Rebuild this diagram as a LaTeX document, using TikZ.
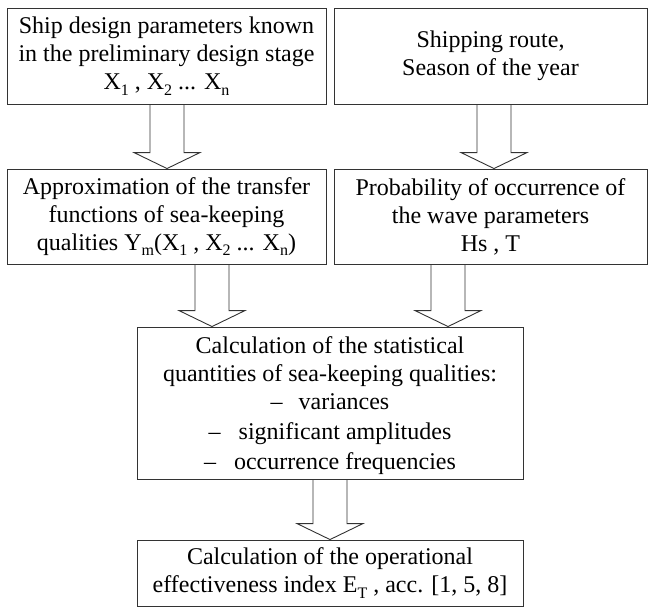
\documentclass[tikz,border=0pt]{standalone}
\usepackage{fontspec}
\setmainfont{Liberation Serif}
\usepackage{tikz}
\usetikzlibrary{calc, positioning}
\newcommand{\lowidx}[1]{\raisebox{-0.5ex}{\fontsize{16}{16}\selectfont #1}}
\newcommand{\blockarrow}[2]{%
	\draw[blockarr] let \p1=(#1), \p2=(#2.north) in
		(\x1-17pt,\y1) -- (\x1-17pt,\y2+16pt) -- (\x1-33pt,\y2+16pt) -- (\x1,\y2)
		-- (\x1+33pt,\y2+16pt) -- (\x1+17pt,\y2+16pt) -- (\x1+17pt,\y1);}

\begin{document}
\begin{tikzpicture}[x=1pt, y=-1pt,
	stagebox/.style={draw=black!80, line width=0.9pt, align=center, inner sep=0pt,
		font=\fontsize{24}{28}\selectfont},
	blockarr/.style={draw=black!80, line width=0.9pt, line join=miter}]
	\useasboundingbox (0,0) rectangle (648,608);
	\node[stagebox, minimum width=319pt, minimum height=96pt] (ship) at (166.5,56)
		{Ship design parameters known\\in the preliminary design stage\\X\lowidx{1} , X\lowidx{2} ... X\lowidx{n}};
	\node[stagebox, minimum width=313pt, minimum height=96pt] (route) at (490.5,56)
		{Shipping route,\\Season of the year};
	\node[stagebox, minimum width=319pt, minimum height=95pt] (approx) at (166.5,216.5)
		{Approximation of the transfer\\functions of sea-keeping\\qualities Y\lowidx{m}(X\lowidx{1} , X\lowidx{2} ... X\lowidx{n})};
	\node[stagebox, minimum width=313pt, minimum height=95pt] (prob) at (490.5,216.5)
		{Probability of occurrence of\\the wave parameters\\Hs , T};
	\node[stagebox, minimum width=386pt, minimum height=152pt] (calc) at (330,403)
		{\rule{0pt}{22pt}Calculation of the statistical\\quantities of sea-keeping qualities:\\
		\textendash\hspace{16pt}variances\\[2pt]
		\textendash\hspace{18pt}significant amplitudes\\[2pt]
		\textendash\hspace{18pt}occurrence frequencies};
	\node[stagebox, minimum width=386pt, minimum height=66pt] (index) at (330,573)
		{Calculation of the operational\\effectiveness index E\lowidx{T} , acc. [1, 5, 8]};
	
	\coordinate (s1) at ($(ship.south)+(0.5,0)$);
	\coordinate (s2) at ($(route.south)+(3.5,0)$);
	\coordinate (s3) at ($(approx.south)+(45.5,0)$);
	\coordinate (s4) at ($(prob.south)+(-42.5,0)$);
	\coordinate (s5) at (calc.south);
	\blockarrow{s1}{approx}
	\blockarrow{s2}{prob}
	\blockarrow{s3}{calc}
	\blockarrow{s4}{calc}
	\blockarrow{s5}{index}
\end{tikzpicture}
\end{document}
